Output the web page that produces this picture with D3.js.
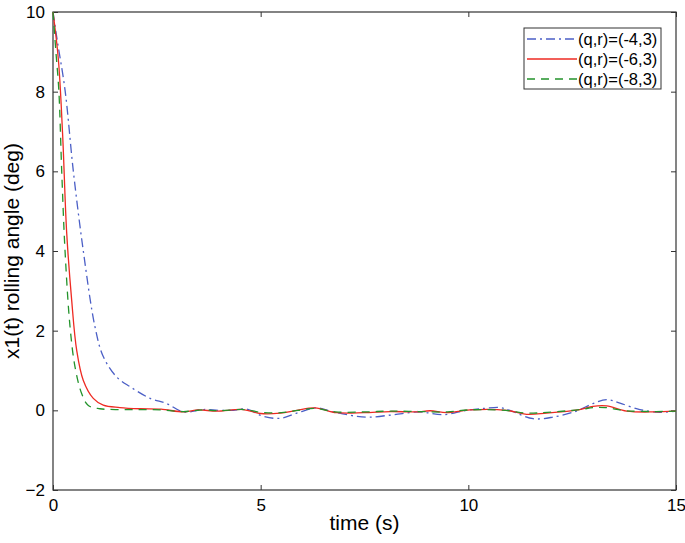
<!DOCTYPE html>
<html>
<head>
<meta charset="utf-8">
<script src="https://cdn.jsdelivr.net/npm/d3@7"></script>
<style>
  body { margin: 0; background: #fff; }
  text { font-family: "Liberation Sans", Arial, sans-serif; fill: #000; }
</style>
</head>
<body>
<div id="chart"></div>
<script>
// series data
var tBlue = [0, 0.1, 0.29, 0.49, 0.73, 1.01, 1.21, 1.53, 1.86, 2.34, 2.74, 3.14, 3.62, 4.0, 4.34, 4.66, 5.06, 5.47, 5.87, 6.35, 6.75, 7.32, 7.64, 8.2, 8.83, 9.4, 9.96, 10.4, 10.76, 11.0, 11.56, 12.04, 12.6, 13.0, 13.33, 13.65, 14.13, 14.61, 15];
var vBlue = [10, 9.3, 8.04, 6.0, 4.0, 2.1, 1.35, 0.84, 0.59, 0.30, 0.17, -0.04, 0.02, 0.0, 0.0, 0.03, -0.15, -0.2, -0.07, 0.06, -0.04, -0.15, -0.17, -0.11, -0.04, -0.11, 0.0, 0.05, 0.07, 0.0, -0.21, -0.17, -0.02, 0.17, 0.27, 0.18, 0.02, -0.05, -0.02];

var tRed = [0, 0.13, 0.23, 0.33, 0.45, 0.57, 0.73, 0.97, 1.21, 1.61, 2.1, 2.6, 3.14, 3.5, 3.94, 4.58, 5.0, 5.47, 5.87, 6.31, 6.83, 7.48, 8.12, 8.76, 9.08, 9.48, 10.04, 10.92, 11.4, 11.88, 12.68, 13.0, 13.33, 13.81, 14.45, 15];
var vRed = [10, 8.8, 6.96, 4.45, 2.76, 1.51, 0.75, 0.30, 0.13, 0.07, 0.04, 0.03, -0.04, 0.01, -0.02, 0.02, -0.08, -0.07, 0.0, 0.06, -0.06, -0.06, -0.03, -0.04, -0.01, -0.06, 0.01, 0.0, -0.1, -0.07, 0.02, 0.1, 0.11, -0.02, -0.04, -0.02];

var tGreen = [0, 0.07, 0.14, 0.21, 0.29, 0.41, 0.53, 0.69, 0.85, 1.13, 1.5, 2.0, 2.6, 3.14, 3.6, 4.0, 4.6, 5.0, 5.5, 5.9, 6.3, 6.8, 7.5, 8.1, 8.8, 9.5, 10.0, 10.9, 11.4, 11.9, 12.7, 13.0, 13.3, 13.8, 14.5, 15];
var vGreen = [10, 9.0, 8.04, 6.0, 4.0, 2.1, 1.09, 0.42, 0.12, 0.04, 0.02, 0.02, 0.01, -0.03, 0.01, -0.01, 0.02, -0.05, -0.06, 0.0, 0.05, -0.04, -0.04, -0.02, -0.03, -0.04, 0.01, 0.0, -0.07, -0.05, 0.02, 0.07, 0.07, -0.01, -0.03, -0.02];

var seriesNames = ["(q,r)=(-4,3)", "(q,r)=(-6,3)", "(q,r)=(-8,3)"];
var xTicks = [0, 5, 10, 15];
var yTicks = [-2, 0, 2, 4, 6, 8, 10];

var margin = { top: 12, right: 9, bottom: 53, left: 53 };
var width = 685 - margin.left - margin.right;
var height = 543 - margin.top - margin.bottom;

var svg = d3.select("#chart")
    .append("svg")
    .attr("width", 685)
    .attr("height", 543)
    .append("g")
    .attr("transform", "translate(" + margin.left + "," + margin.top + ")");

var x = d3.scaleLinear().domain([0, 15]).range([0, width]);
var y = d3.scaleLinear().domain([-2, 10]).range([height, 0]);

// box
svg.append("rect")
    .attr("width", width)
    .attr("height", height)
    .attr("fill", "none")
    .attr("stroke", "#333")
    .attr("stroke-width", 1.2);

// axes, ticks pointing inward
var xAxis = svg.append("g")
    .attr("transform", "translate(0," + height + ")")
    .call(d3.axisBottom(x).tickValues(xTicks).tickSize(-5).tickPadding(9));
var xTop = svg.append("g")
    .call(d3.axisTop(x).tickValues(xTicks).tickSize(-5).tickFormat(""));
var yAxis = svg.append("g")
    .call(d3.axisLeft(y).tickValues(yTicks).tickSize(-5).tickPadding(8));
var yRight = svg.append("g")
    .attr("transform", "translate(" + width + ",0)")
    .call(d3.axisRight(y).tickValues(yTicks).tickSize(-5).tickFormat(""));

[xAxis, xTop, yAxis, yRight].forEach(function (a) {
    a.select(".domain").remove();
    a.selectAll("line").attr("stroke", "#333");
    a.selectAll("text")
        .style("font-family", "'Liberation Sans', Arial, sans-serif")
        .style("font-size", "17px")
        .attr("fill", "#000");
});

// axis labels
svg.append("text")
    .attr("x", width / 2)
    .attr("y", height + 40)
    .attr("text-anchor", "middle")
    .style("font-size", "21px")
    .text("time (s)");

svg.append("text")
    .attr("transform", "rotate(-90)")
    .attr("x", -height / 2)
    .attr("y", -34)
    .attr("text-anchor", "middle")
    .style("font-size", "21px")
    .text("x1(t) rolling angle (deg)");

var series = [
    { name: seriesNames[0], t: tBlue, v: vBlue, color: "#4b5fc6", dash: "9,4,2,4" },
    { name: seriesNames[1], t: tRed, v: vRed, color: "#ee2a22", dash: null },
    { name: seriesNames[2], t: tGreen, v: vGreen, color: "#23932b", dash: "8,6" }
];

var line = d3.line()
    .x(function (d) { return x(d[0]); })
    .y(function (d) { return y(d[1]); })
    .curve(d3.curveCatmullRom.alpha(0.5));

svg.selectAll(".series")
    .data(series)
    .enter()
    .append("path")
    .attr("class", "series")
    .attr("fill", "none")
    .attr("stroke", function (d) { return d.color; })
    .attr("stroke-width", 1.3)
    .attr("stroke-dasharray", function (d) { return d.dash; })
    .attr("d", function (d) { return line(d.t.map(function (t, i) { return [t, d.v[i]]; })); });

// legend
var lg = svg.append("g").attr("transform", "translate(" + (524 - margin.left) + "," + (28 - margin.top) + ")");
lg.append("rect")
    .attr("width", 137)
    .attr("height", 61)
    .attr("fill", "#fff")
    .attr("stroke", "#333")
    .attr("stroke-width", 1);

var items = lg.selectAll(".legend")
    .data(series)
    .enter().append("g")
    .attr("class", "legend")
    .attr("transform", function (d, i) { return "translate(0," + (11 + i * 20) + ")"; });

items.append("line")
    .attr("x1", 3)
    .attr("x2", 53)
    .attr("stroke", function (d) { return d.color; })
    .attr("stroke-width", 1.3)
    .attr("stroke-dasharray", function (d) { return d.dash; });

items.append("text")
    .attr("x", 54)
    .attr("dy", "0.35em")
    .style("font-size", "16.5px")
    .text(function (d) { return d.name; });
</script>
</body>
</html>
